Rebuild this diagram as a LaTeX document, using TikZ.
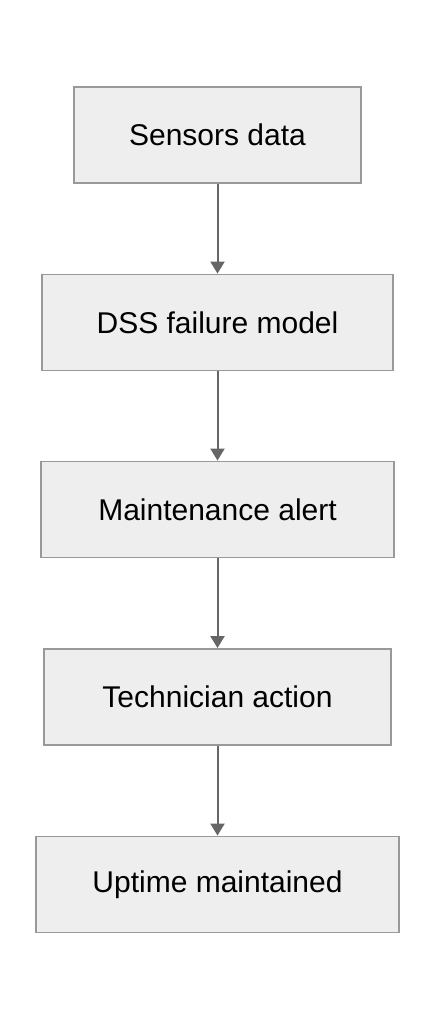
\documentclass[tikz,border=0pt]{standalone}
\usepackage{fontspec}
\setmainfont{Liberation Sans}
\usetikzlibrary{arrows.meta}
\definecolor{boxfill}{HTML}{EEEEEE}
\definecolor{boxline}{HTML}{999999}
\definecolor{arrowcol}{HTML}{666666}
\begin{document}
\begin{tikzpicture}[x=1pt,y=1pt,
  stepbox/.style={draw=boxline, fill=boxfill, line width=1.8pt, inner sep=0pt,
    minimum height=96pt, font=\fontsize{30}{35}\selectfont},
  flow/.style={draw=arrowcol, line width=2pt, -{Triangle[width=14pt,length=12pt]}}]
\useasboundingbox (0,0) rectangle (436,1020);
\node[stepbox, minimum width=287pt] (a) at (217.5,885) {Sensors data};
\node[stepbox, minimum width=351pt] (b) at (217.5,697.5) {DSS failure model};
\node[stepbox, minimum width=353pt] (c) at (217.5,510.5) {Maintenance alert};
\node[stepbox, minimum width=347pt] (d) at (217.5,323) {Technician action};
\node[stepbox, minimum width=363pt] (e) at (217.5,135.5) {Uptime maintained};
\draw[flow] (a) -- (b);
\draw[flow] (b) -- (c);
\draw[flow] (c) -- (d);
\draw[flow] (d) -- (e);
\end{tikzpicture}
\end{document}
